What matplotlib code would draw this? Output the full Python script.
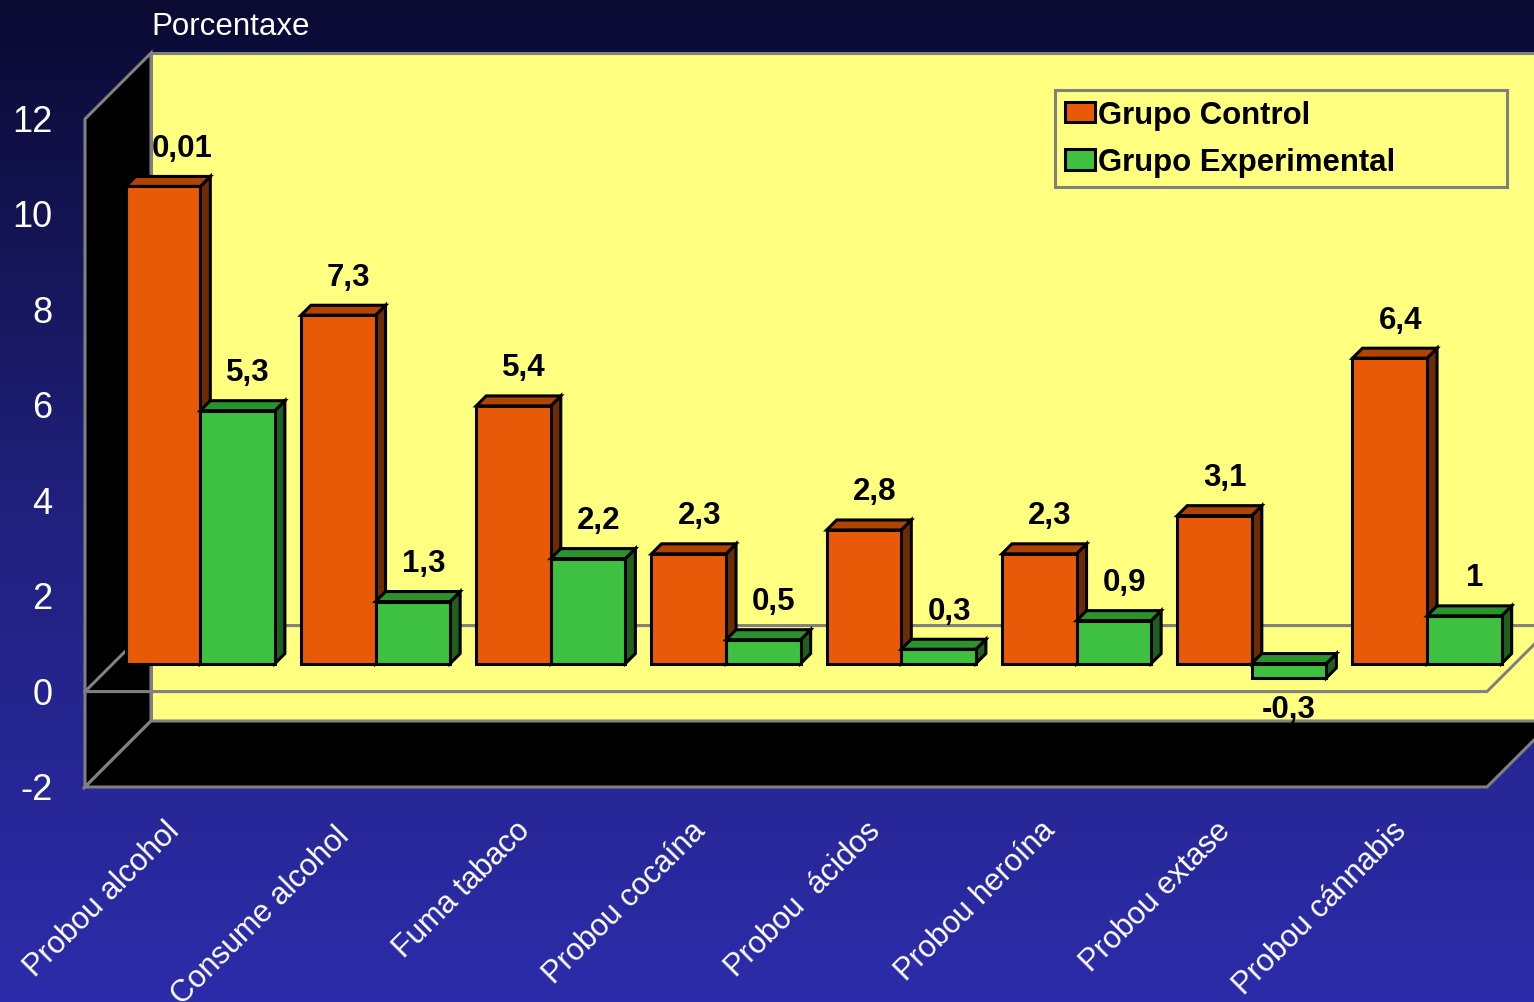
import matplotlib
matplotlib.use("Agg")
import matplotlib.pyplot as plt
import numpy as np
from matplotlib.patches import Patch, Polygon
from matplotlib.transforms import ScaledTranslation

plt.rcParams['font.family'] = ['Liberation Sans', 'DejaVu Sans']

FIG_W, FIG_H = 1534, 1003

categories = ["Probou alcohol", "Consume alcohol", "Fuma tabaco", "Probou cocaína",
              "Probou  ácidos", "Probou heroína", "Probou extase", "Probou cánnabis"]
control = [10.0, 7.3, 5.4, 2.3, 2.8, 2.3, 3.1, 6.4]
experimental = [5.3, 1.3, 2.2, 0.5, 0.3, 0.9, -0.3, 1.0]
control_labels = ["0,01", "7,3", "5,4", "2,3", "2,8", "2,3", "3,1", "6,4"]
experimental_labels = ["5,3", "1,3", "2,2", "0,5", "0,3", "0,9", "-0,3", "1"]
y_ticks = [-2, 0, 2, 4, 6, 8, 10, 12]

ORANGE = ("#e85a08", "#b04404", "#6e2c04")
GREEN = ("#3ec040", "#2c922e", "#1e6020")
GREY = "#808080"
YELLOW = "#ffff80"

fig = plt.figure(figsize=(FIG_W / 100, FIG_H / 100), dpi=100)

# background gradient
bg = fig.add_axes([0, 0, 1, 1], zorder=0)
bg.imshow(np.linspace(0, 1, 256).reshape(-1, 1),
          cmap=matplotlib.colors.LinearSegmentedColormap.from_list(
              "bg", ["#0a0a32", "#20207c", "#2c2caa"]),
          aspect="auto", extent=(0, 1, 0, 1))
bg.axis("off")

# axes box = front plane of the fake 3D plot
left, right, top, bottom = 85, 1487, 120, 788
ax = fig.add_axes([left / FIG_W, 1 - bottom / FIG_H, (right - left) / FIG_W, (bottom - top) / FIG_H],
                  zorder=1)
ax.set_xlim(0, len(categories))
ax.set_ylim(-2, 12)
ax.patch.set_alpha(0)
for s in ax.spines.values():
    s.set_visible(False)

px_x = len(categories) / (right - left)
px_y = 14 / (bottom - top)

# depth of the box and of the bars
dx, dy = 66 * px_x, 66 * px_y
bar_dx, bar_dy = 10 * px_x, 10 * px_y
front_dx, front_dy = 27 * px_x, 28 * px_y
bar_w = 74.6 * px_x
bar_start = 13.7 * px_x
n = len(categories)


def poly(pts, fc, ec=GREY, lw=2.2, z=1):
    ax.add_patch(Polygon(pts, closed=True, fc=fc, ec=ec, lw=lw, clip_on=False, zorder=z,
                         joinstyle="miter"))


# back wall, left wall, floor
poly([(dx, -2 + dy), (n + dx, -2 + dy), (n + dx, 12 + dy), (dx, 12 + dy)], YELLOW)
poly([(0, -2), (dx, -2 + dy), (dx, 12 + dy), (0, 12)], "black")
poly([(0, -2), (n, -2), (n + dx, -2 + dy), (dx, -2 + dy)], "black")

# zero plane
ax.plot([0, dx, n + dx], [0, dy, dy], color=GREY, lw=2.2, clip_on=False, zorder=2)
ax.plot([0, n, n + dx], [0, 0, dy], color=GREY, lw=2.2, clip_on=False, zorder=2)


def bar3d(x0, value, colors, z):
    x = x0 + front_dx
    base = front_dy
    low, high = min(0, value) + base, max(0, value) + base
    face, top_c, side = colors
    kw = dict(ec="black", lw=2.2, z=z)
    poly([(x + bar_w, low), (x + bar_w + bar_dx, low + bar_dy),
          (x + bar_w + bar_dx, high + bar_dy), (x + bar_w, high)], side, **kw)
    poly([(x, high), (x + bar_w, high), (x + bar_w + bar_dx, high + bar_dy),
          (x + bar_dx, high + bar_dy)], top_c, **kw)
    poly([(x, low), (x + bar_w, low), (x + bar_w, high), (x, high)], face, **kw)
    return x, low, high


for i in range(n):
    # control bar first, green one sits in front of its side face
    x, low, high = bar3d(i + bar_start, control[i], ORANGE, 3 + i)
    shift = 19 if i == 0 else 10.5
    ax.text(x + bar_w / 2 + shift * px_x, high + 38.5 * px_y, control_labels[i], fontsize=22.5,
            fontweight="bold", color="black", ha="center", va="center", zorder=20)
    x, low, high = bar3d(i + bar_start + bar_w, experimental[i], GREEN, 3.5 + i)
    if experimental[i] < 0:
        lx, ly = x + bar_w / 2, low - 31 * px_y
    else:
        lx, ly = x + bar_w / 2 + 10.5 * px_x, high + 38.5 * px_y
    ax.text(lx, ly, experimental_labels[i], fontsize=22.5, fontweight="bold", color="black",
            ha="center", va="center", zorder=20)

ax.set_yticks(y_ticks)
ax.set_yticklabels([str(v) for v in y_ticks], fontsize=26, color="white")
ax.tick_params(axis="y", length=0, pad=23.5)
for lab in ax.get_yticklabels():
    lab.set_transform(lab.get_transform() + ScaledTranslation(0, 1.5 / 100, fig.dpi_scale_trans))

ax.set_xticks(np.arange(n) + 0.5)
ax.set_xticklabels(categories, fontsize=22.2, color="white", rotation=45, ha="right", va="top",
                   rotation_mode="anchor")
ax.tick_params(axis="x", length=0, pad=20)
for i, lab in enumerate(ax.get_xticklabels()):
    # second label sits a bit lower and further left in the original
    off_x, off_y = (-14, -5) if i == 1 else (-8.5, 0)
    lab.set_transform(lab.get_transform() + ScaledTranslation(off_x / 100, off_y / 100, fig.dpi_scale_trans))

ax.text(151 / FIG_W, 1 - 27 / FIG_H, "Porcentaxe", transform=fig.transFigure, fontsize=22.5,
        color="white", ha="left", va="center")

handles = [Patch(fc=ORANGE[0], ec="black", lw=2.2), Patch(fc=GREEN[0], ec="black", lw=2.2)]
leg = ax.legend(handles, ["Grupo Control", "Grupo Experimental"], loc="upper left",
                bbox_to_anchor=(1055 / FIG_W, 1 - 187 / FIG_H, 452 / FIG_W, 96 / FIG_H),
                bbox_transform=fig.transFigure, mode="expand", borderaxespad=0,
                prop=dict(size=22.4, weight="bold"), fancybox=False, framealpha=1,
                facecolor=YELLOW, edgecolor=GREY, handlelength=0.95, handleheight=0.65,
                handletextpad=0.12, labelspacing=0.56, borderpad=0.32)
leg.get_frame().set_linewidth(2.2)
leg.set_zorder(30)

fig.savefig("out.png", dpi=100)
